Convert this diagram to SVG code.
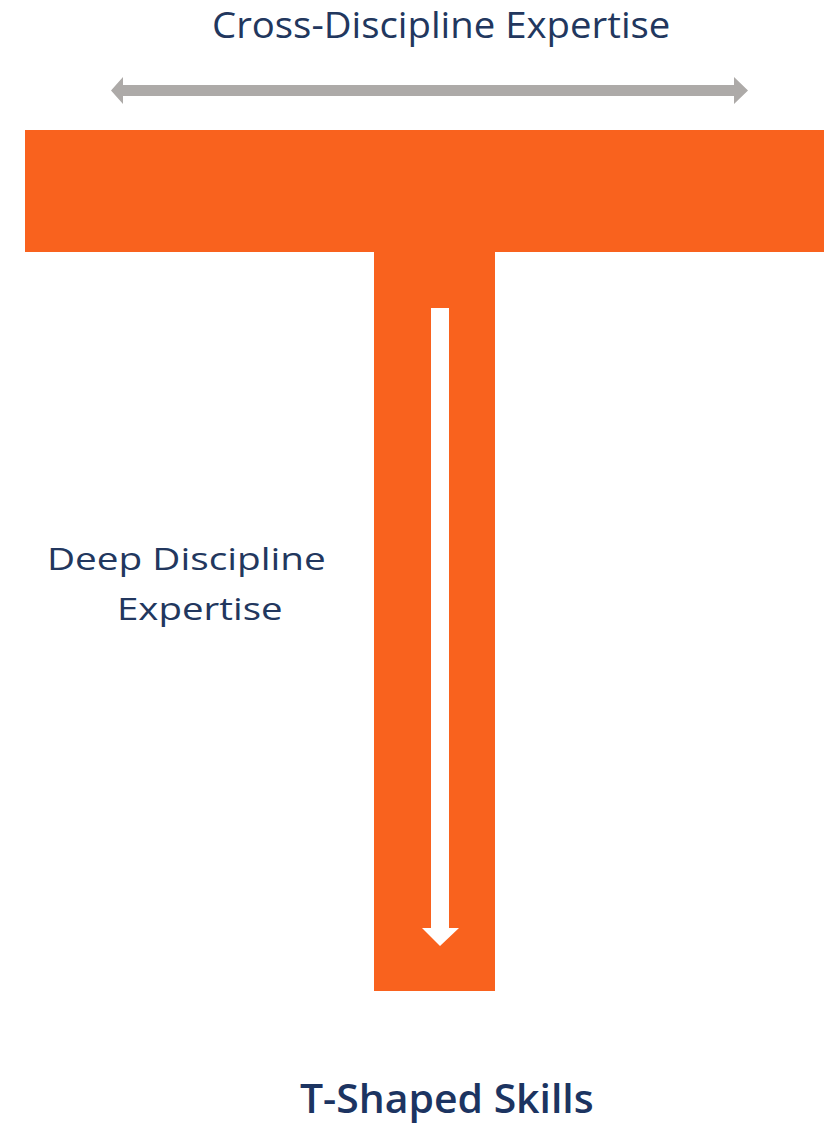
<svg xmlns="http://www.w3.org/2000/svg" width="826" height="1123" viewBox="0 0 826 1123">
<style>
.lbl{font-family:"Open Sans","Liberation Sans",sans-serif;fill:#22375e}
.ttl{font-family:"Open Sans","Liberation Sans",sans-serif;fill:#1c3461;font-size:40px;font-weight:600}
.org{fill:#f9621e}
</style>
<rect width="826" height="1123" fill="#ffffff"/>
<g id="t-shape">
<rect class="org" x="25" y="130" width="799" height="122"/>
<rect class="org" x="374" y="251" width="121" height="740"/>
</g>
<g id="connectors">
<polygon id="cross-arrow" fill="#adaaa8" points="111,90.5 123,77 123,85 734,85 734,77 748,90.5 734,104 734,96 123,96 123,104"/>
<polygon id="deep-arrow" fill="#ffffff" points="431,308 449,308 449,928 459,928 440,946 422,928 431,928"/>
</g>
<g id="label-cross"><text class="lbl" font-size="36" transform="translate(212,38) scale(1.065,1)">Cross-Discipline Expertise</text></g>
<g id="label-deep"><text class="lbl" font-size="31" transform="translate(47,570) scale(1.25,1)">Deep Discipline</text><text class="lbl" font-size="31" transform="translate(117,620) scale(1.24,1)">Expertise</text></g>
<g id="title"><text class="ttl" transform="translate(300,1113) scale(1.023,1)">T-Shaped Skills</text></g>
</svg>
